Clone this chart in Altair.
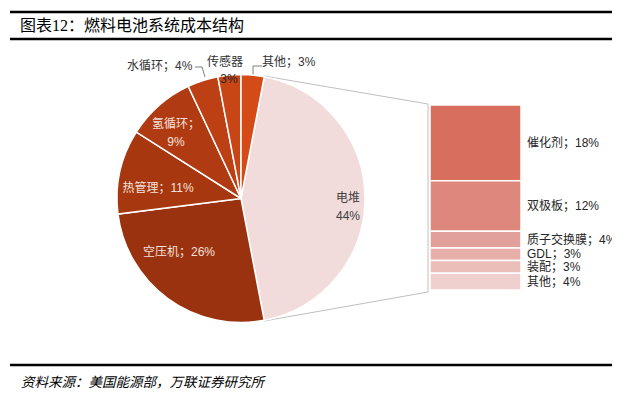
import math
import altair as alt
import pandas as pd

# ---- data ----
pie_cats = ["电堆", "空压机", "热管理", "氢循环", "水循环", "传感器", "其他"]
pie_shares = [44, 26, 11, 9, 4, 3, 3]
pie_colors = ["#F2DCDB", "#9A3210", "#A6370F", "#B03B12", "#BC4014", "#C84516", "#D44B18"]

stack_cats = ["催化剂", "双极板", "质子交换膜", "GDL", "装配", "其他"]
stack_shares = [18, 12, 4, 3, 3, 4]
stack_colors = ["#D86F5E", "#DD877D", "#E2A09A", "#E7AFAA", "#EBBEBA", "#F0D0CE"]

title_text = "图表12：燃料电池系统成本结构"
source_text = "资料来源：美国能源部，万联证券研究所"

# ---- layout (plot-area pixels; page offset 8px) ----
W, H = 604, 386
OFF = 8
cx, cy, R = 241 - OFF, 198.5 - OFF, 124
bar_x0, bar_x1 = 430 - OFF, 521 - OFF
bar_top, bar_bot = 105 - OFF, 290 - OFF
start = math.radians(pie_shares[0] / 100 * 360 / 2 * -1 + 90)  # 电堆 centred at 3 o'clock

FONT = "Liberation Sans, Noto Sans CJK SC"

pie_df = pd.DataFrame({"cat": pie_cats, "share": pie_shares, "idx": range(len(pie_cats))})
stack_df = pd.DataFrame({"cat": stack_cats, "share": stack_shares, "idx": range(len(stack_cats))})
stack_df["end"] = stack_df["share"].cumsum()
stack_df["start"] = stack_df["end"] - stack_df["share"]
stack_df["mid"] = (stack_df["start"] + stack_df["end"]) / 2
stack_df["label"] = [f"{c}；{v}%" for c, v in zip(stack_cats, stack_shares)]
stack_df["key"] = [f"s{i}" for i in range(len(stack_cats))]

pie = alt.Chart(pie_df).mark_arc(outerRadius=R, stroke="white", strokeWidth=1.5).encode(
    theta=alt.Theta("share:Q", stack=True,
                    scale=alt.Scale(range=[start, start + 2 * math.pi])),
    order=alt.Order("idx:Q"),
    color=alt.Color("cat:N", scale=alt.Scale(domain=pie_cats, range=pie_colors), legend=None),
    x=alt.value(cx), y=alt.value(cy),
)

yscale = alt.Scale(domain=[0, sum(stack_shares)], range=[bar_top, bar_bot])
bars = alt.Chart(stack_df).mark_rect(stroke="white", strokeWidth=1.5).encode(
    x=alt.value(bar_x0), x2=alt.value(bar_x1),
    y=alt.Y("start:Q", scale=yscale, axis=None), y2="end:Q",
    color=alt.Color("key:N", scale=alt.Scale(domain=list(stack_df["key"]), range=stack_colors), legend=None),
)
bar_labels = alt.Chart(stack_df).mark_text(
    align="left", baseline="middle", font=FONT, fontSize=12, color="#262626", clip=True
).encode(
    x=alt.value(527 - OFF),
    y=alt.Y("mid:Q", scale=yscale, axis=None),
    text="label:N",
)

# pie annotations (text layout)
ann = pd.DataFrame({
    "text": ["电堆", f"{pie_shares[0]}%", f"空压机；{pie_shares[1]}%", f"热管理；{pie_shares[2]}%",
             "氢循环；", f"{pie_shares[3]}%", f"水循环；{pie_shares[4]}%", "传感器",
             f"{pie_shares[5]}%", f"其他；{pie_shares[6]}%"],
    "x": [348, 348, 179, 158, 176, 176, 127, 225, 229, 262],
    "y": [198, 216, 252, 188, 124, 142, 66, 62, 79, 62],
    "align": ["center", "center", "center", "center", "center", "center", "left", "center", "center", "left"],
    "color": ["#404040", "#404040", "#F6E0DC", "#F6E0DC", "#F6E0DC", "#F6E0DC", "#333333", "#333333", "#262626", "#333333"],
})
ann["x"] = ann["x"] - OFF
ann["y"] = ann["y"] - OFF

def ann_layer(al):
    d = ann[ann["align"] == al]
    return alt.Chart(d).mark_text(align=al, baseline="middle", font=FONT, fontSize=12).encode(
        x=alt.X("x:Q", scale=None), y=alt.Y("y:Q", scale=None), text="text:N",
        color=alt.Color("color:N", scale=None),
    )

# leader / connector lines
lines = pd.DataFrame({
    "x": [264, 264, 428, 195, 202, 253, 253],
    "y": [76, 321, 104, 67, 67, 75, 66],
    "x2": [428, 428, 428, 202, 205, 253, 262],
    "y2": [104, 292, 292, 67, 77, 66, 66],
    "color": ["#BFBFBF", "#BFBFBF", "#BFBFBF", "#7F7F7F", "#7F7F7F", "#7F7F7F", "#7F7F7F"],
})
for c in ["x", "y", "x2", "y2"]:
    lines[c] = lines[c] - OFF
conn = alt.Chart(lines).mark_rule(strokeWidth=1).encode(
    x=alt.X("x:Q", scale=None), y=alt.Y("y:Q", scale=None),
    x2="x2:Q", y2="y2:Q", color=alt.Color("color:N", scale=None),
)

rule_top = alt.Chart().mark_rule(color="black", strokeWidth=2.5).encode(
    x=alt.value(2), x2=alt.value(604), y=alt.value(4))
rule_mid = alt.Chart().mark_rule(color="black", strokeWidth=2.5).encode(
    x=alt.value(2), x2=alt.value(604), y=alt.value(31))
rule_bot = alt.Chart().mark_rule(color="black", strokeWidth=2.5).encode(
    x=alt.value(2), x2=alt.value(604), y=alt.value(357))

title = alt.Chart().mark_text(
    align="left", baseline="middle", font="Liberation Serif, Noto Sans CJK SC", fontSize=16, color="black"
).encode(x=alt.value(12), y=alt.value(18), text=alt.value(title_text))
source = alt.Chart().mark_text(
    align="left", baseline="middle", font=FONT, fontSize=13.5, fontStyle="italic", color="black"
).encode(x=alt.value(13), y=alt.value(375), text=alt.value(source_text))

chart = alt.layer(
    conn, pie, bars, bar_labels, ann_layer("center"), ann_layer("left"),
    rule_top, rule_mid, rule_bot, title, source,
).resolve_scale(x="independent", y="independent", color="independent").properties(
    width=W, height=H, autosize=alt.AutoSizeParams(type="none"), padding=0,
).configure_view(stroke=None)

chart.save("out.html", embed_options={"renderer": "svg", "actions": False})
